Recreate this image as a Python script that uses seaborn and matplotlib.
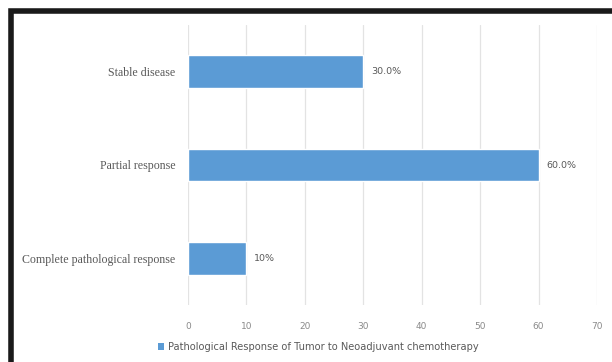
import matplotlib
matplotlib.use("Agg")
import matplotlib.pyplot as plt
import seaborn as sns
import pandas as pd
from matplotlib.lines import Line2D
from matplotlib.patches import Patch

categories = ["Stable disease", "Partial response", "Complete pathological response"]
values = [30.0, 60.0, 10.0]
value_labels = ["30.0%", "60.0%", "10%"]
xticks = [0, 10, 20, 30, 40, 50, 60, 70]
legend_label = "Pathological Response of Tumor to Neoadjuvant chemotherapy"

df = pd.DataFrame({"category": categories, "value": values})

sns.set_style("white")
plt.rcParams['font.family'] = ['DejaVu Sans']

W, H = 612, 362
fig = plt.figure(figsize=(W / 100, H / 100), dpi=100)
ax = fig.add_axes([188 / W, 1 - 305 / H, (597 - 188) / W, (305 - 25) / H])

bar_color = "#5B9BD5"
sns.barplot(data=df, x="value", y="category", order=categories, color=bar_color,
            width=0.35, ax=ax, saturation=1)

ax.set_xlim(0, 70)
ax.set_ylim(2.5, -0.5)
ax.set_xticks(xticks)
ax.set_xticklabels([str(t) for t in xticks], fontsize=6.5, color="#8a8a8a")
ax.set_yticklabels(categories, fontsize=8.6, color="#595959", family="Liberation Serif")
ax.tick_params(axis="both", length=0, pad=12)
ax.tick_params(axis="y", pad=9)
ax.set_xlabel("")
ax.set_ylabel("")
ax.xaxis.grid(True, color="#E3E3E3", linewidth=0.9)
ax.yaxis.grid(False)
ax.set_axisbelow(True)
for s in ax.spines.values():
    s.set_visible(False)

for i, (v, lab) in enumerate(zip(values, value_labels)):
    ax.text(v + 1.3, i, lab, va="center", ha="left", fontsize=6.8, color="#595959")

handle = Patch(facecolor=bar_color, edgecolor="none")
fig.legend([handle], [legend_label], loc="center", bbox_to_anchor=(318 / W, 1 - 347 / H),
           frameon=False, fontsize=7.1, handlelength=0.6, handleheight=0.6,
           handletextpad=0.4, labelcolor="#595959")

# black frame (left and top edges visible)
fig.add_artist(Line2D([10.5 / W, 10.5 / W, 1.01], [-0.01, 1 - 10.5 / H, 1 - 10.5 / H],
                      color="#1a1a1a", linewidth=4, solid_joinstyle="miter",
                      solid_capstyle="butt", transform=fig.transFigure))

fig.savefig("out.png", dpi=100, facecolor="white")
